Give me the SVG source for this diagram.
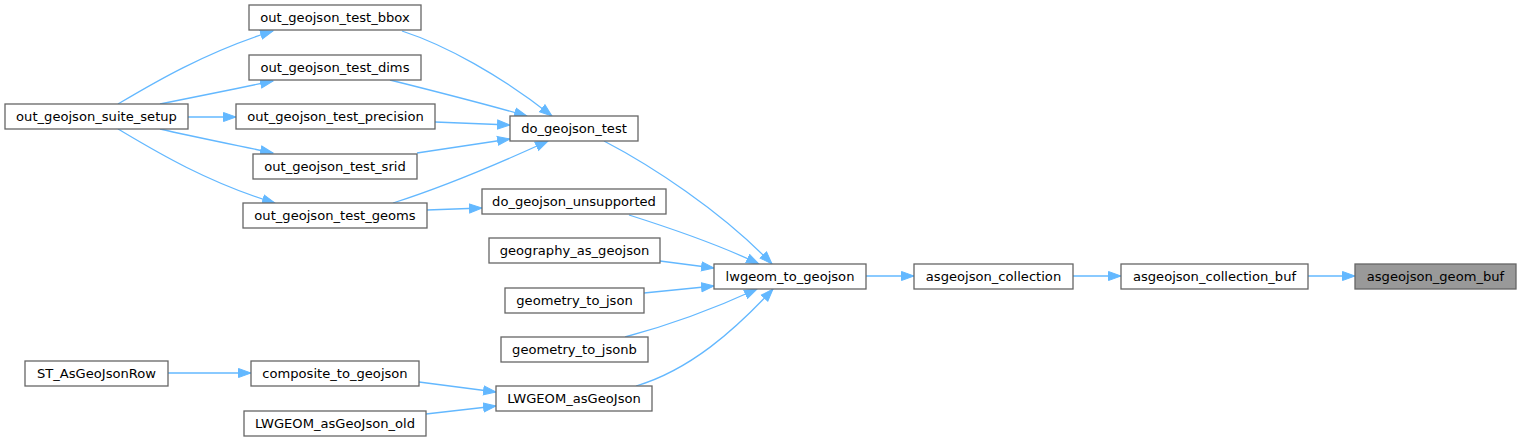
<svg xmlns="http://www.w3.org/2000/svg" width="1521" height="441" viewBox="0 0 1521 441">
<style>
.node rect{fill:#ffffff;stroke:#666666;stroke-width:1.3}
.node.hl rect{fill:#999999}
.node text{font-family:"DejaVu Sans",sans-serif;font-size:13.1px;fill:#000000;text-anchor:middle}
.edges path{fill:none;stroke:#63b8ff;stroke-width:1.3;marker-end:url(#ah)}
</style>
<defs>
<marker id="ah" markerUnits="userSpaceOnUse" markerWidth="16" markerHeight="12" refX="13" refY="5.5" orient="auto">
<path d="M0.5,1 L13,5.5 L0.5,10 z" fill="#63b8ff" stroke="#63b8ff" stroke-width="1"/>
</marker>
</defs>
<rect width="1521" height="441" fill="#ffffff"/>
<g id="edges" class="edges">
<path d="M118,104 C150,85 205,52 273,31"/>
<path d="M160,104 C190,98 235,89 273,81"/>
<path d="M188,117 L236,117"/>
<path d="M160,129 C190,136 235,145 273,153"/>
<path d="M118,129 C150,148 205,182 275,203"/>
<path d="M402,31 C445,45 500,75 552,116"/>
<path d="M390,80 C430,90 485,104 527,116"/>
<path d="M435,122 L510,125"/>
<path d="M417,153 L510,139"/>
<path d="M393,203 C440,188 500,163 548,141"/>
<path d="M427,210 L482,208"/>
<path d="M604,141 C650,165 720,210 772,264"/>
<path d="M629,215 C670,228 720,245 759,264"/>
<path d="M660,261 L714,268"/>
<path d="M644,293 L714,286"/>
<path d="M625,337 C670,325 720,306 757,289"/>
<path d="M636,386 C690,370 735,330 773,289"/>
<path d="M419,382 L496,392"/>
<path d="M426,414 L496,406"/>
<path d="M168,373 L251,373"/>
<path d="M866,276 L914,276"/>
<path d="M1073,276 L1121,276"/>
<path d="M1308,276 L1355,276"/>
</g>
<g id="n_suite_setup" class="node"><rect x="5" y="104" width="183" height="25"/><text x="96.5" y="121">out_geojson_suite_setup</text></g>
<g id="n_bbox" class="node"><rect x="249" y="5" width="172" height="25"/><text x="335" y="22">out_geojson_test_bbox</text></g>
<g id="n_dims" class="node"><rect x="249" y="55" width="172" height="25"/><text x="335" y="72">out_geojson_test_dims</text></g>
<g id="n_precision" class="node"><rect x="236" y="104" width="199" height="25"/><text x="335.5" y="121">out_geojson_test_precision</text></g>
<g id="n_srid" class="node"><rect x="253" y="154" width="164" height="25"/><text x="335" y="171">out_geojson_test_srid</text></g>
<g id="n_geoms" class="node"><rect x="243" y="203" width="184" height="25"/><text x="335" y="220">out_geojson_test_geoms</text></g>
<g id="n_st_row" class="node"><rect x="25" y="361" width="143" height="25"/><text x="96.5" y="378">ST_AsGeoJsonRow</text></g>
<g id="n_composite" class="node"><rect x="251" y="361" width="168" height="25"/><text x="335" y="378">composite_to_geojson</text></g>
<g id="n_asgeojson_old" class="node"><rect x="244" y="411" width="182" height="25"/><text x="335" y="428">LWGEOM_asGeoJson_old</text></g>
<g id="n_do_test" class="node"><rect x="510" y="116" width="128" height="25"/><text x="574" y="133">do_geojson_test</text></g>
<g id="n_do_unsupported" class="node"><rect x="482" y="189" width="184" height="25"/><text x="574" y="206">do_geojson_unsupported</text></g>
<g id="n_geography" class="node"><rect x="489" y="238" width="171" height="25"/><text x="574.5" y="255">geography_as_geojson</text></g>
<g id="n_geom_json" class="node"><rect x="505" y="288" width="139" height="25"/><text x="574.5" y="305">geometry_to_json</text></g>
<g id="n_geom_jsonb" class="node"><rect x="501" y="337" width="147" height="25"/><text x="574.5" y="354">geometry_to_jsonb</text></g>
<g id="n_lwgeom_asgeojson" class="node"><rect x="496" y="386" width="156" height="25"/><text x="574" y="403">LWGEOM_asGeoJson</text></g>
<g id="n_lwgeom_to_geojson" class="node"><rect x="714" y="264" width="152" height="25"/><text x="790" y="281">lwgeom_to_geojson</text></g>
<g id="n_collection" class="node"><rect x="914" y="264" width="159" height="25"/><text x="993.5" y="281">asgeojson_collection</text></g>
<g id="n_collection_buf" class="node"><rect x="1121" y="264" width="187" height="25"/><text x="1214.5" y="281">asgeojson_collection_buf</text></g>
<g id="n_geom_buf" class="node hl"><rect x="1355" y="264" width="161" height="25"/><text x="1435.5" y="281">asgeojson_geom_buf</text></g>
</svg>
